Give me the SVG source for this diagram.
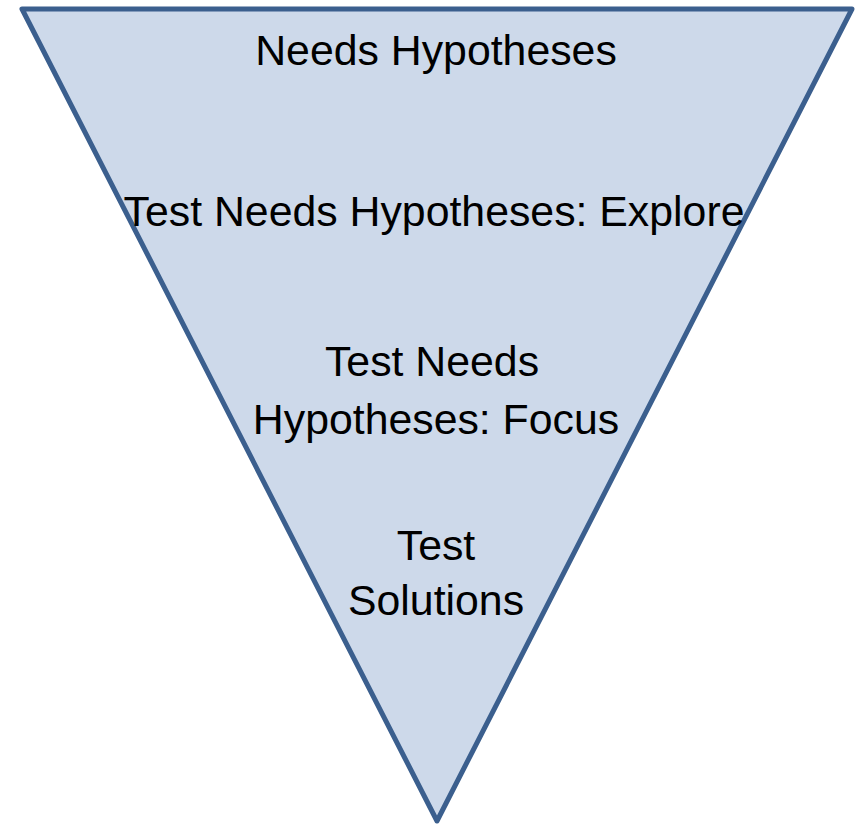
<svg xmlns="http://www.w3.org/2000/svg" width="858" height="826" viewBox="0 0 858 826">
<style>
.t{font-family:"Liberation Sans",Arial,sans-serif;font-size:42.8px;fill:#000;text-anchor:middle}
</style>
<rect width="858" height="826" fill="#fff"/>
<g id="funnel">
<polygon points="22,9 852,9 437,821" fill="#cdd9ea" stroke="#3b5f8e" stroke-width="5" stroke-linejoin="round"/>
</g>
<g id="labels">
<text class="t" x="436" y="65">Needs Hypotheses</text>
<text class="t" x="434" y="226">Test Needs Hypotheses: Explore</text>
<text class="t" x="432" y="376">Test Needs</text>
<text class="t" x="436" y="434">Hypotheses: Focus</text>
<text class="t" x="436" y="560">Test</text>
<text class="t" x="436" y="615">Solutions</text>
</g>
</svg>
